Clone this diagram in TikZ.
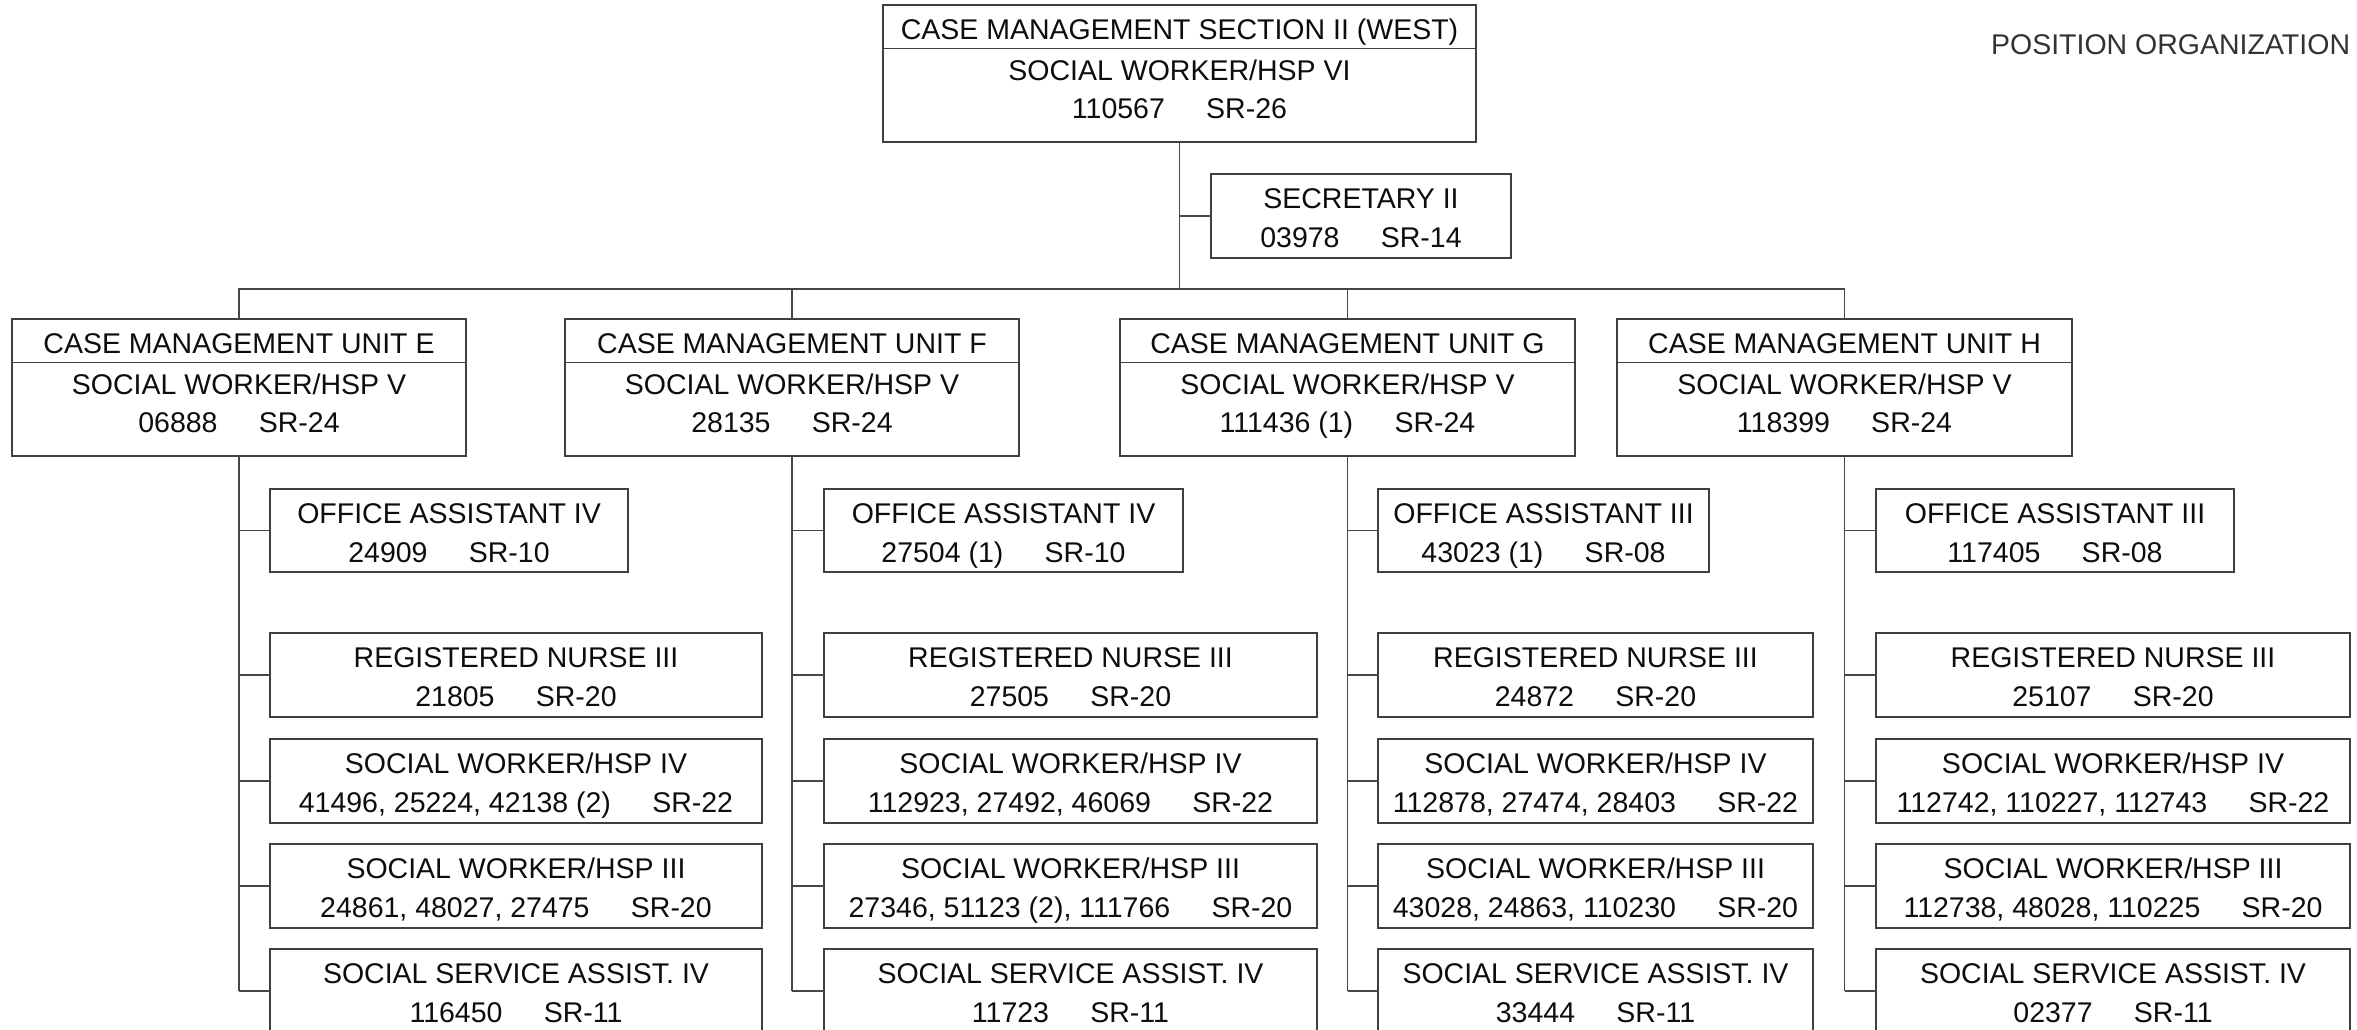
\documentclass[tikz,border=0pt]{standalone}
\usepackage{fontspec}
\setmainfont{Liberation Sans}
\usetikzlibrary{calc}
\newcommand\gap{\hspace{1.45em}}
\tikzset{
  pbox/.style={draw=black!75, line width=1.3pt, inner sep=0pt, outer sep=0pt, rectangle},
  ptxt/.style={anchor=base, inner sep=0pt, outer sep=0pt, text=black!95,
    font=\fontsize{28.5}{34}\selectfont},
  link/.style={draw=black!72, line width=1.4pt},
  divline/.style={draw=black!75, line width=1.3pt}
}
% name, x1, y1, x2, y2, line1, line2
\newcommand\posbox[7]{%
  \pgfmathsetmacro\bw{#4-#2}\pgfmathsetmacro\bh{#5-#3}%
  \node[pbox, minimum width=\bw pt, minimum height=\bh pt, anchor=north west] (#1) at (#2,#3) {};
  \node[ptxt] (#1-a) at ($(#1.north)+(0,34.5)$) {#6};
  \node[ptxt] (#1-b) at ($(#1.north)+(0,73)$) {#7};
}
% name, x1, y1, x2, y2, title, line2, line3
\newcommand\unitbox[8]{%
  \pgfmathsetmacro\bw{#4-#2}\pgfmathsetmacro\bh{#5-#3}%
  \node[pbox, minimum width=\bw pt, minimum height=\bh pt, anchor=north west] (#1) at (#2,#3) {};
  \draw[divline] ($(#1.north west)+(0,43.5)$) -- ($(#1.north east)+(0,43.5)$);
  \node[ptxt] (#1-a) at ($(#1.north)+(0,34)$) {#6};
  \node[ptxt] (#1-b) at ($(#1.north)+(0,75)$) {#7};
  \node[ptxt] (#1-c) at ($(#1.north)+(0,113.5)$) {#8};
}
\begin{document}
\begin{tikzpicture}[x=1pt,y=-1pt]
\fill[white] (0,0) rectangle (2357,1029);
\useasboundingbox (0,0) rectangle (2357,1029);
\clip (0,0) rectangle (2357,1029);

\node[ptxt, anchor=base east, text=black!80] (title) at (2350,54) {POSITION ORGANIZATION};

% top
\unitbox{top}{883}{5}{1476}{142}{CASE MANAGEMENT SECTION II (WEST)}{SOCIAL WORKER/HSP VI}{110567\gap SR-26}
\posbox{sec}{1211}{174}{1511}{258}{SECRETARY II}{03978\gap SR-14}

% units
\unitbox{uE}{12}{319}{466}{456}{CASE MANAGEMENT UNIT E}{SOCIAL WORKER/HSP V}{06888\gap SR-24}
\unitbox{uF}{565}{319}{1019}{456}{CASE MANAGEMENT UNIT F}{SOCIAL WORKER/HSP V}{28135\gap SR-24}
\unitbox{uG}{1120}{319}{1575}{456}{CASE MANAGEMENT UNIT G}{SOCIAL WORKER/HSP V}{111436 (1)\gap SR-24}
\unitbox{uH}{1617}{319}{2072}{456}{CASE MANAGEMENT UNIT H}{SOCIAL WORKER/HSP V}{118399\gap SR-24}

% column E
\posbox{oaE}{270}{489}{628}{572}{OFFICE ASSISTANT IV}{24909\gap SR-10}
\posbox{rnE}{270}{633}{762}{717}{REGISTERED NURSE III}{21805\gap SR-20}
\posbox{s4E}{270}{739}{762}{823}{SOCIAL WORKER/HSP IV}{41496, 25224, 42138 (2)\gap SR-22}
\posbox{s3E}{270}{844}{762}{928}{SOCIAL WORKER/HSP III}{24861, 48027, 27475\gap SR-20}
\posbox{ssE}{270}{949}{762}{1033}{SOCIAL SERVICE ASSIST. IV}{116450\gap SR-11}

% column F
\posbox{oaF}{824}{489}{1183}{572}{OFFICE ASSISTANT IV}{27504 (1)\gap SR-10}
\posbox{rnF}{824}{633}{1317}{717}{REGISTERED NURSE III}{27505\gap SR-20}
\posbox{s4F}{824}{739}{1317}{823}{SOCIAL WORKER/HSP IV}{112923, 27492, 46069\gap SR-22}
\posbox{s3F}{824}{844}{1317}{928}{SOCIAL WORKER/HSP III}{27346, 51123 (2), 111766\gap SR-20}
\posbox{ssF}{824}{949}{1317}{1033}{SOCIAL SERVICE ASSIST. IV}{11723\gap SR-11}

% column G
\posbox{oaG}{1378}{489}{1709}{572}{OFFICE ASSISTANT III}{43023 (1)\gap SR-08}
\posbox{rnG}{1378}{633}{1813}{717}{REGISTERED NURSE III}{24872\gap SR-20}
\posbox{s4G}{1378}{739}{1813}{823}{SOCIAL WORKER/HSP IV}{112878, 27474, 28403\gap SR-22}
\posbox{s3G}{1378}{844}{1813}{928}{SOCIAL WORKER/HSP III}{43028, 24863, 110230\gap SR-20}
\posbox{ssG}{1378}{949}{1813}{1033}{SOCIAL SERVICE ASSIST. IV}{33444\gap SR-11}

% column H
\posbox{oaH}{1876}{489}{2234}{572}{OFFICE ASSISTANT III}{117405\gap SR-08}
\posbox{rnH}{1876}{633}{2350}{717}{REGISTERED NURSE III}{25107\gap SR-20}
\posbox{s4H}{1876}{739}{2350}{823}{SOCIAL WORKER/HSP IV}{112742, 110227, 112743\gap SR-22}
\posbox{s3H}{1876}{844}{2350}{928}{SOCIAL WORKER/HSP III}{112738, 48028, 110225\gap SR-20}
\posbox{ssH}{1876}{949}{2350}{1033}{SOCIAL SERVICE ASSIST. IV}{02377\gap SR-11}

% connectors
\coordinate (bus) at (0,289);
\draw[link] (top.south) -- (top.south |- bus);
\draw[link] (sec.west) -- (sec.west -| top.south);
\draw[link] (uE.north) -- (uE.north |- bus) -- (uH.north |- bus) -- (uH.north);
\draw[link] (uF.north) -- (uF.north |- bus);
\draw[link] (uG.north) -- (uG.north |- bus);
\foreach \c in {E,F,G,H}{
  \draw[link] (u\c.south) -- (u\c.south |- ss\c.west);
  \foreach \b in {oa,rn,s4,s3,ss}{
    \draw[link] (\b\c.west) -- (\b\c.west -| u\c.south);
  }
}
\end{tikzpicture}
\end{document}
